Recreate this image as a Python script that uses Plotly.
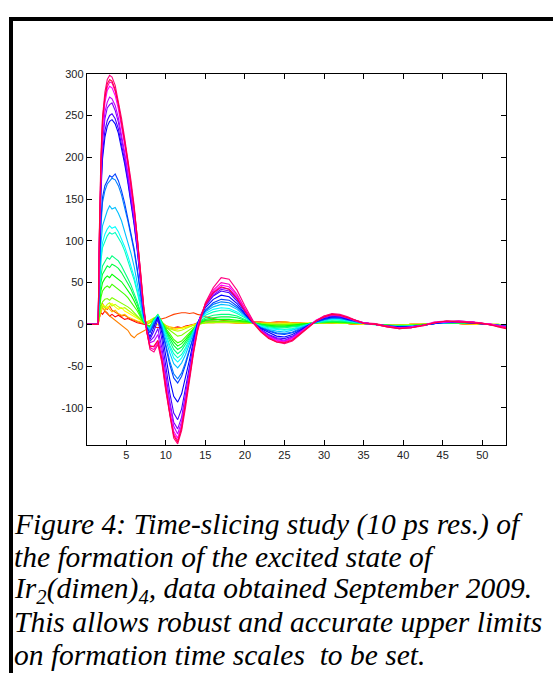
import colorsys
import plotly.graph_objects as go

# ---------------- data ----------------
X = [0, 1.45, 1.6, 1.8, 2.0, 2.3, 2.6, 2.9, 3.2, 3.6,
     4.0, 4.4, 4.8, 5.2, 5.6, 6.0, 6.4, 6.8, 7.2, 7.6,
     8.0, 8.5, 9.0, 9.5, 10.0, 10.5, 11.0, 11.5, 12.0, 12.5,
     13.0, 13.5, 14.0, 14.5, 15.0,
     16, 17, 18, 19, 20, 21, 22, 23, 24, 25,
     26, 27, 28, 29, 30, 31, 32, 33, 34, 35,
     36.5, 38, 39.5, 41, 42.5, 44, 45.5, 47, 48.5, 50,
     51, 52, 53]

C00 = [0, 0, 8, 14, 12, 16, 13, 10, 12, 9, 11, 8, 6, 7, 5, 4, 2, 1, 0, -1,
       -2, -3, -4, -3, -4, -5, -4, -3, -4, -2, -1, 0, 2, 3, 4,
       4, 3, 3, 3, 2, 2, 2, 2, 2, 2, 2, 1, 1, 1, 1, 1, 1, 1, 0, 0,
       0, -1, -1, 0, 0, 1, 1, 1, 0, 0, 0, -1, -1]
C01 = [0, 0, 15, 22, 25, 20, 18, 22, 17, 15, 12, 10, 11, 8, 6, 5, 3, 2, 1, 2,
       3, 4, 5, 6, 8, 10, 12, 13, 14, 14, 13, 14, 12, 11, 9,
       7, 5, 4, 3, 3, 3, 3, 2, 3, 3, 2, 2, 1, 1, 1, 1, 1, 1, 0, 0,
       0, -1, -1, 0, 0, 1, 1, 1, 0, 0, 0, -1, -1]
C02 = [0, 0, 18, 22, 20, 16, 14, 10, 8, 5, 2, -2, -5, -7, -13, -16, -12, -10, -7, -5,
       -3, -1, 0, -2, -4, -5, -6, -5, -4, -3, -2, -1, 0, 1, 2,
       2, 2, 2, 1, 1, 1, 1, 2, 2, 2, 1, 1, 1, 1, 1, 2, 1, 1, 0, 0,
       0, -1, -1, 0, 0, 1, 1, 1, 0, 0, 0, -1, -1]
C03 = [0, 0, 8, 15, 20, 17, 21, 18, 15, 17, 13, 11, 12, 9, 7, 6, 4, 3, 2, 3,
       5, 7, 6, 2, -1, -3, -4, -5, -4, -3, -2, -1, 0, 1, 2,
       2, 3, 3, 2, 2, 2, 2, 2, 2, 3, 2, 2, 1, 1, 1, 2, 1, 1, 0, 0,
       0, -1, -1, 0, 0, 1, 1, 1, 0, 0, 0, -1, -1]
C04 = [0, 0, 12, 20, 24, 22, 19, 23, 25, 21, 18, 20, 16, 14, 12, 10, 7, 5, 2, 1,
       3, 2, 0, -2, -3, -5, -6, -5, -5, -3, -2, 0, 1, 2, 2,
       3, 3, 2, 2, 2, 1, 1, 1, 0, 1, 1, 1, 2, 2, 2, 2, 1, 1, 1, 0,
       0, -1, -1, 0, 0, 1, 1, 1, 1, 0, 0, 0, -1]
C05 = [0, 0, 10, 18, 22, 20, 24, 26, 22, 24, 21, 19, 20, 17, 15, 12, 9, 6, 4, 3,
       5, 8, 7, 2, -2, -5, -7, -8, -7, -5, -3, -1, 0, 1, 2,
       2, 3, 3, 2, 2, 2, 1, 1, 0, 0, 1, 1, 1, 2, 2, 2, 2, 1, 1, 1,
       0, -1, -1, -1, 0, 1, 1, 1, 1, 1, 0, 0, -1]
C06 = [0, 0, 12, 22, 27, 30, 31, 29, 32, 30, 28, 26, 24, 21, 18, 14, 10, 6, 2, 0,
       2, 7, 9, 3, -3, -7, -11, -14, -13, -10, -6, -3, 0, 1, 2,
       3, 3, 3, 3, 2, 2, 1, 0, 0, 0, 0, 1, 1, 2, 2, 2, 2, 2, 1, 1,
       0, -1, -1, -1, 0, 1, 1, 1, 1, 1, 0, 0, -1]
C07 = [0, 0, 16, 32, 40, 44, 46, 44, 48, 45, 43, 40, 36, 32, 27, 22, 16, 9, 2, -1,
       -2, 6, 11, 3, -5, -11, -18, -22, -20, -15, -10, -5, 0, 2, 4,
       4, 4, 4, 4, 3, 2, 0, -1, -1, -1, -1, 0, 1, 2, 2, 3, 2, 2, 1, 1,
       0, -1, -1, -1, 0, 1, 1, 2, 1, 1, 0, -1, -1]
C08 = [0, 0, 20, 40, 50, 55, 58, 56, 60, 57, 55, 51, 46, 41, 35, 28, 20, 11, 3, -1,
       -3, 5, 10, 2, -7, -14, -21, -26, -23, -18, -12, -6, 0, 3, 5,
       6, 6, 6, 5, 4, 2, 0, -1, -2, -2, -1, 0, 1, 2, 3, 3, 3, 2, 2, 1,
       0, -1, -2, -1, -1, 1, 1, 2, 1, 1, 0, -1, -1]
C09 = [0, 0, 26, 50, 60, 66, 70, 68, 72, 70, 67, 62, 56, 49, 42, 34, 24, 13, 3, -2,
       -4, 6, 12, 3, -8, -17, -25, -30, -27, -21, -14, -7, 0, 4, 6,
       8, 9, 9, 8, 5, 2, 0, -2, -3, -3, -2, -1, 0, 2, 3, 4, 3, 3, 2, 1,
       0, -1, -2, -2, -1, 1, 2, 2, 1, 1, 0, -1, -2]
C10 = [0, 0, 30, 58, 70, 76, 80, 78, 82, 79, 76, 70, 63, 55, 47, 38, 27, 15, 4, -2,
       -4, 5, 10, 2, -10, -20, -30, -35, -31, -24, -16, -8, 1, 5, 8,
       11, 12, 12, 10, 6, 2, -1, -3, -4, -4, -3, -2, 0, 2, 3, 4, 4, 3, 2, 1,
       0, -1, -2, -2, -1, 1, 2, 2, 2, 1, 0, -1, -2]
C11 = [0, 0, 38, 76, 92, 100, 106, 110, 108, 110, 104, 97, 88, 77, 66, 53, 38, 21, 5, -3,
       -5, 5, 11, 1, -13, -25, -35, -40, -36, -28, -18, -8, 2, 7, 11,
       15, 17, 17, 13, 8, 2, -2, -4, -5, -6, -5, -3, 0, 2, 4, 6, 5, 4, 2, 1,
       0, -2, -2, -2, -1, 1, 2, 2, 2, 1, 0, -1, -2]
C12 = [0, 0, 40, 80, 98, 108, 114, 118, 115, 117, 111, 103, 93, 82, 70, 57, 41, 23, 6, -3,
       -6, 4, 10, 0, -15, -28, -40, -45, -40, -31, -20, -9, 2, 8, 13,
       18, 20, 19, 15, 9, 2, -2, -5, -6, -7, -6, -3, 0, 3, 5, 6, 6, 4, 3, 1,
       0, -2, -3, -2, -1, 1, 2, 3, 2, 1, 0, -1, -2]
C13 = [0, 0, 48, 95, 118, 128, 136, 142, 138, 140, 133, 124, 112, 99, 85, 69, 50, 28, 8, -3,
       -7, 3, 10, -2, -19, -34, -47, -52, -46, -36, -23, -10, 2, 9, 15,
       21, 24, 23, 18, 10, 2, -3, -6, -8, -9, -7, -4, 0, 3, 5, 7, 7, 5, 3, 1,
       0, -2, -3, -2, -1, 1, 2, 3, 2, 1, 0, -1, -2]
C14 = [0, 0, 58, 118, 146, 160, 168, 171, 175, 173, 166, 155, 140, 124, 106, 87, 63, 36, 10, -4,
       -9, 2, 9, -4, -25, -44, -59, -65, -58, -45, -29, -13, 1, 9, 16,
       24, 27, 26, 20, 11, 2, -4, -7, -10, -11, -9, -5, -1, 3, 6, 8, 7, 5, 3, 1,
       0, -2, -3, -3, -1, 1, 2, 3, 2, 1, 0, -2, -3]
C15 = [0, 0, 62, 125, 152, 166, 172, 178, 176, 180, 172, 160, 145, 128, 110, 90, 66, 38, 11, -4,
       -10, 0, 8, -6, -28, -48, -64, -70, -62, -48, -31, -14, 1, 10, 17,
       26, 30, 29, 22, 12, 2, -4, -8, -11, -12, -10, -6, -1, 3, 6, 8, 8, 6, 4, 2,
       0, -2, -3, -3, -1, 1, 3, 3, 2, 1, 0, -1, -3]
C16 = [0, 0, 80, 158, 198, 224, 237, 243, 245, 240, 229, 212, 192, 170, 146, 119, 88, 50, 15, -5,
       -15, -3, 9, -10, -40, -66, -86, -93, -83, -64, -42, -19, 1, 12, 20,
       30, 35, 33, 25, 13, 2, -5, -10, -14, -15, -12, -7, -1, 4, 7, 9, 9, 6, 4, 2,
       0, -2, -3, -3, -1, 1, 3, 3, 2, 1, 0, -1, -3]
C17 = [0, 0, 85, 165, 205, 232, 244, 250, 252, 246, 234, 217, 196, 173, 149, 122, 90, 51, 15, -6,
       -18, -8, 6, -18, -52, -82, -106, -114, -101, -77, -50, -23, 0, 13, 22,
       34, 40, 38, 28, 15, 3, -6, -12, -16, -17, -14, -8, -1, 4, 8, 10, 9, 7, 4, 2,
       0, -2, -4, -3, -1, 2, 3, 3, 3, 1, 0, -2, -2]
C18 = [0, 0, 92, 176, 218, 246, 259, 263, 265, 256, 242, 224, 202, 178, 154, 126, 93, 53, 16, -7,
       -20, -15, -5, -28, -62, -92, -117, -125, -111, -85, -55, -26, -2, 12, 22,
       35, 42, 40, 30, 16, 3, -7, -13, -17, -19, -15, -9, -2, 4, 8, 11, 10, 7, 4, 2,
       0, -2, -4, -3, -1, 2, 3, 4, 3, 1, 0, -2, -3]
C19 = [0, 0, 96, 183, 226, 254, 266, 272, 270, 262, 247, 228, 206, 182, 157, 129, 96, 55, 17, -8,
       -22, -20, -12, -35, -68, -97, -122, -131, -116, -89, -58, -28, -3, 12, 23,
       37, 44, 42, 32, 17, 3, -7, -14, -18, -20, -16, -9, -2, 4, 9, 11, 10, 8, 5, 2,
       0, -2, -4, -4, -1, 2, 3, 3, 3, 1, 0, -1, -3]
C20 = [0, 0, 100, 190, 236, 265, 280, 285, 283, 274, 258, 238, 215, 190, 164, 135, 100, 58, 19, -9,
       -25, -27, -20, -40, -74, -103, -128, -136, -120, -92, -60, -30, -4, 12, 24,
       39, 47, 45, 34, 18, 3, -8, -15, -19, -21, -17, -10, -2, 5, 9, 12, 11, 8, 5, 2,
       0, -3, -5, -3, -1, 2, 3, 4, 3, 1, 1, -2, -4]
C21 = [0, 0, 105, 195, 240, 270, 284, 290, 289, 279, 262, 242, 218, 193, 167, 137, 102, 60, 20, -10,
       -28, -30, -22, -43, -78, -106, -131, -139, -122, -94, -62, -31, -5, 12, 25,
       41, 50, 48, 36, 19, 4, -8, -15, -20, -21, -18, -10, -2, 5, 10, 12, 11, 8, 4, 1,
       0, -3, -4, -4, -1, 3, 4, 3, 3, 1, 0, -2, -3]
C22 = [0, 0, 108, 198, 248, 278, 293, 298, 296, 286, 268, 247, 223, 198, 172, 142, 106, 64, 23, -8,
       -30, -33, -24, -46, -80, -110, -136, -143, -127, -99, -66, -35, -9, 10, 26,
       44, 56, 54, 41, 22, 5, -8, -16, -21, -23, -20, -12, -4, 4, 10, 13, 12, 9, 5, 2,
       1, -2, -5, -4, -2, 2, 4, 4, 3, 2, -1, -2, -4]
C23 = [0, 0, 112, 203, 246, 272, 288, 293, 291, 281, 264, 243, 219, 195, 168, 139, 104, 62, 21, -9,
       -27, -26, -19, -42, -77, -107, -133, -141, -124, -96, -63, -33, -7, 11, 24,
       38, 45, 42, 31, 16, 2, -9, -17, -21, -22, -19, -11, -3, 4, 9, 12, 11, 8, 5, 1,
       0, -3, -5, -4, -1, 2, 4, 3, 2, 1, 0, -3, -5]

SERIES = [C00, C01, C02, C03, C04, C05, C06, C07, C08, C09, C10, C11,
          C12, C13, C14, C15, C16, C17, C18, C19, C20, C21, C22, C23]

X_TICKS = [5, 10, 15, 20, 25, 30, 35, 40, 45, 50]
X_TICK_LABELS = ["5", "10", "15", "20", "25", "30", "35", "40", "45", "50"]
Y_TICKS = [-100, -50, 0, 50, 100, 150, 200, 250, 300]
Y_TICK_LABELS = ["-100", "-50", "0", "50", "100", "150", "200", "250", "300"]

CAPTION = [
    "Figure 4: Time-slicing study (10 ps res.) of",
    "the formation of the excited state of",
    "Ir<sub>2</sub>(dimen)<sub>4</sub>, data obtained September 2009.",
    "This allows robust and accurate upper limits",
    "on formation time scales\u00a0 to be set.",
]

for s in SERIES:
    assert len(s) == len(X), (len(s), len(X))

# ---------------- figure ----------------
W, H = 553, 673
fig = go.Figure()
n = len(SERIES)
for i, ys in enumerate(SERIES):
    r, g, b = colorsys.hsv_to_rgb(i / n, 1.0, 1.0)
    col = "rgb(%d,%d,%d)" % (round(r * 255), round(g * 255), round(b * 255))
    fig.add_trace(go.Scatter(x=X, y=ys, mode="lines",
                             line=dict(color=col, width=1.1),
                             hoverinfo="skip", showlegend=False))

def px_x(p):
    return p / W

def px_y(p):
    return 1 - p / H

axis_common = dict(
    showgrid=False, zeroline=False, showline=True, linecolor="black",
    linewidth=1, mirror="ticks", ticks="inside", ticklen=5, tickwidth=1,
    tickcolor="black",
    tickfont=dict(family="Liberation Sans", size=11, color="#222222"),
)

fig.update_layout(
    width=W, height=H,
    margin=dict(l=0, r=0, t=0, b=0),
    paper_bgcolor="white", plot_bgcolor="white",
    showlegend=False,
    xaxis=dict(domain=[px_x(86.7), px_x(506)], range=[0, 53],
               tickmode="array", tickvals=X_TICKS, ticktext=X_TICK_LABELS,
               **axis_common),
    yaxis=dict(domain=[px_y(442.7), px_y(68.3)], range=[-144, 300],
               tickmode="array", tickvals=Y_TICKS, ticktext=Y_TICK_LABELS,
               **axis_common),
)

# frame (top and left border)
fig.add_shape(type="line", xref="paper", yref="paper",
              x0=px_x(11), x1=px_x(560), y0=px_y(13), y1=px_y(13),
              line=dict(color="black", width=4))
fig.add_shape(type="line", xref="paper", yref="paper",
              x0=px_x(11), x1=px_x(11), y0=px_y(11), y1=px_y(680),
              line=dict(color="black", width=4))

line_y = [523, 556, 589, 622, 655]
for txt, yy in zip(CAPTION, line_y):
    fig.add_annotation(text="<i>" + txt + "</i>", xref="paper", yref="paper",
                       x=px_x(13), y=px_y(yy), xanchor="left", yanchor="middle",
                       showarrow=False, borderpad=0, height=32, valign="middle",
                       font=dict(family="Liberation Serif", size=29.5, color="black"))

fig.write_html("out.html")
